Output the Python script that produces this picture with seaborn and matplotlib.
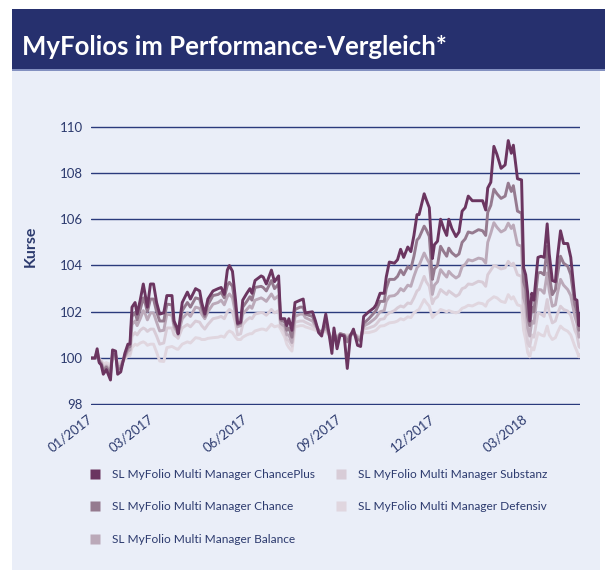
import matplotlib
matplotlib.use("Agg")
import matplotlib.pyplot as plt
import seaborn as sns
import pandas as pd
from matplotlib.patches import Rectangle
from matplotlib.lines import Line2D

# ---------------- data ----------------
start_date = "2017-01-01"
days = [0, 4, 6, 8, 10, 12, 15, 19, 21, 24,
        26, 29, 33, 36, 38, 40, 43, 45, 48, 51,
        53, 55, 58, 61, 64, 67, 71, 74, 79, 81,
        84, 85, 89, 94, 97, 102, 106, 108, 111, 114,
        119, 124, 127, 130, 133, 135, 138, 141, 143, 146,
        148, 152, 155, 157, 160, 166, 168, 171, 176, 179,
        183, 185, 189, 191, 193, 196, 199, 204, 207, 209,
        216, 219, 222, 225, 229, 232, 235, 237, 240, 243,
        247, 250, 253, 256, 260, 263, 266, 271, 276, 278,
        282, 286, 288, 291, 296, 299, 302, 305, 309, 312,
        315, 318, 320, 325, 327, 330, 333, 335, 338, 341,
        344, 347, 349, 352, 356, 359, 362, 365, 368, 372,
        378, 382, 385, 387, 390, 393, 396, 400, 404, 407,
        410, 412, 416, 420, 422, 424, 426, 428, 430, 432,
        436, 439, 442, 445, 447, 450, 453, 455, 458, 461,
        465, 468, 472, 474, 476, 477]

chanceplus = [100.0, 100.0, 100.4, 99.8, 99.7, 99.3, 99.5, 99.05, 100.35, 100.3,
              99.3, 99.4, 100.2, 100.6, 100.6, 102.2, 102.4, 101.9, 102.5, 103.2,
              102.7, 102.2, 103.2, 103.2, 102.4, 101.9, 101.95, 102.7, 102.7, 101.6,
              101.3, 101.05, 102.4, 102.85, 102.55, 103.0, 102.9, 102.4, 101.9, 102.55,
              102.9, 103.0, 103.05, 102.75, 103.8, 104.0, 103.75, 102.5, 101.5, 101.55,
              102.5, 102.8, 103.0, 102.8, 103.35, 103.55, 103.5, 103.2, 103.8, 103.3,
              103.55, 101.7, 101.7, 101.4, 101.7, 101.2, 102.4, 102.5, 102.55, 101.95,
              102.0, 101.6, 101.1, 100.95, 101.9, 101.1, 100.2, 101.3, 100.4, 101.0,
              100.95, 99.55, 100.95, 101.25, 100.55, 100.5, 101.8, 102.0, 102.17, 102.3,
              102.8, 102.8, 103.5, 104.15, 104.1, 104.25, 104.7, 104.35, 104.8, 104.6,
              105.3, 106.2, 106.2, 107.1, 106.85, 106.5, 104.3, 104.9, 105.05, 106.0,
              105.6, 105.3, 106.0, 105.6, 105.25, 105.45, 106.35, 106.5, 107.0, 106.8,
              106.8, 106.8, 106.4, 107.35, 107.6, 109.15, 108.8, 108.2, 108.35, 109.4,
              108.85, 109.2, 107.75, 107.7, 103.9, 103.6, 102.8, 101.6, 102.8, 102.5,
              104.35, 104.4, 104.35, 105.8, 104.5, 103.35, 103.3, 104.35, 105.5, 104.95,
              104.95, 104.35, 102.55, 102.5, 101.4, 101.9]

chance = [100.0, 100.0, 100.3, 99.85, 99.75, 99.45, 99.6, 99.3, 100.2, 100.15,
          99.5, 99.55, 100.1, 100.45, 100.5, 101.8, 101.97, 101.65, 102.1, 102.6,
          102.35, 102.0, 102.55, 102.55, 102.0, 101.6, 101.6, 102.33, 102.3, 101.5,
          101.2, 101.1, 102.05, 102.4, 102.2, 102.6, 102.55, 102.2, 101.8, 102.3,
          102.7, 102.75, 102.84, 102.6, 103.15, 103.27, 103.1, 102.2, 101.45, 101.5,
          102.2, 102.45, 102.65, 102.5, 103.05, 103.1, 103.05, 102.9, 103.35, 103.0,
          103.2, 101.65, 101.55, 101.2, 101.3, 100.9, 102.1, 102.2, 102.2, 101.9,
          101.8, 101.5, 101.2, 101.1, 101.5, 101.1, 100.6, 101.1, 100.7, 101.05,
          101.0, 100.7, 101.0, 101.15, 100.8, 100.75, 101.5, 101.7, 101.95, 102.05,
          102.45, 102.45, 103.0, 103.4, 103.4, 103.53, 103.8, 103.6, 103.95, 103.85,
          104.4, 105.1, 105.2, 105.7, 105.55, 105.26, 103.4, 103.85, 104.0, 104.83,
          104.6, 104.4, 104.75, 104.55, 104.4, 104.5, 105.0, 105.15, 105.45, 105.4,
          105.55, 105.5, 105.3, 106.3, 106.6, 107.3, 107.1, 106.9, 107.0, 107.56,
          107.2, 107.45, 106.35, 106.26, 103.3, 103.0, 101.8, 101.4, 102.2, 102.0,
          103.68, 103.7, 103.6, 104.83, 103.6, 102.74, 102.96, 103.6, 104.4, 104.1,
          103.97, 103.6, 102.3, 102.0, 101.2, 101.3]

balance = [100.0, 100.0, 100.2, 99.9, 99.8, 99.55, 99.65, 99.45, 100.1, 100.1,
           99.6, 99.65, 100.05, 100.3, 100.35, 101.45, 101.6, 101.4, 101.7, 102.05,
           101.9, 101.65, 101.95, 101.95, 101.55, 101.17, 101.2, 101.9, 101.85, 101.35,
           101.1, 101.0, 101.7, 101.95, 101.8, 102.2, 102.15, 101.9, 101.7, 102.0,
           102.33, 102.4, 102.5, 102.3, 102.65, 102.77, 102.6, 101.9, 101.35, 101.4,
           101.9, 102.1, 102.25, 102.15, 102.5, 102.6, 102.55, 102.45, 102.77, 102.55,
           102.7, 101.5, 101.35, 101.0, 101.0, 100.67, 101.8, 101.9, 101.9, 101.75,
           101.6, 101.4, 101.2, 101.1, 101.3, 101.05, 100.8, 101.0, 100.85, 101.05,
           101.0, 100.85, 101.0, 101.1, 100.9, 100.85, 101.38, 101.5, 101.67, 101.75,
           102.0, 102.05, 102.45, 102.67, 102.7, 102.8, 103.0, 102.9, 103.15, 103.1,
           103.53, 103.9, 104.0, 104.54, 104.35, 104.1, 102.75, 103.15, 103.3, 103.82,
           103.65, 103.5, 103.75, 103.6, 103.46, 103.55, 103.95, 104.05, 104.25, 104.2,
           104.32, 104.28, 104.1, 105.0, 105.4, 105.85, 105.65, 105.45, 105.55, 105.83,
           105.6, 105.75, 104.9, 104.83, 102.6, 102.3, 101.3, 100.95, 101.6, 101.5,
           102.96, 102.95, 102.8, 103.68, 102.9, 102.24, 102.3, 102.8, 103.4, 103.15,
           102.96, 102.7, 101.8, 101.5, 100.9, 100.95]

substanz = [100.0, 100.0, 100.15, 99.9, 99.85, 99.65, 99.7, 99.6, 100.05, 100.05,
            99.7, 99.75, 100.0, 100.15, 100.2, 100.95, 101.1, 101.0, 101.2, 101.3,
            101.25, 101.15, 101.25, 101.25, 100.95, 100.6, 100.65, 101.3, 101.3, 101.0,
            100.9, 100.85, 101.3, 101.45, 101.35, 101.6, 101.55, 101.4, 101.25, 101.45,
            101.7, 101.75, 101.8, 101.7, 102.0, 102.1, 102.0, 101.5, 101.0, 101.05,
            101.45, 101.65, 101.75, 101.7, 101.9, 101.97, 101.95, 101.85, 102.1, 101.95,
            102.05, 101.35, 101.15, 100.8, 100.75, 100.52, 101.55, 101.6, 101.6, 101.55,
            101.4, 101.3, 101.2, 101.1, 101.2, 101.0, 100.9, 101.0, 100.9, 101.05,
            101.0, 100.95, 101.0, 101.05, 100.95, 100.9, 101.25, 101.3, 101.38, 101.45,
            101.67, 101.7, 101.85, 101.95, 102.05, 102.17, 102.25, 102.2, 102.38, 102.35,
            102.6, 102.9, 102.97, 103.53, 103.3, 103.1, 102.35, 102.55, 102.65, 102.96,
            102.85, 102.75, 102.9, 102.8, 102.67, 102.75, 103.0, 103.05, 103.2, 103.18,
            103.32, 103.28, 103.1, 103.6, 103.8, 104.0, 103.95, 103.85, 103.9, 104.18,
            104.0, 104.1, 103.6, 103.53, 101.9, 101.5, 100.66, 100.5, 101.0, 100.9,
            101.95, 101.9, 101.8, 102.53, 101.95, 101.52, 101.6, 101.9, 102.24, 102.1,
            102.03, 101.85, 101.2, 101.0, 100.5, 100.45]

defensiv = [100.0, 100.0, 100.1, 99.95, 99.9, 99.75, 99.8, 99.7, 100.0, 100.0,
            99.8, 99.85, 99.95, 100.1, 100.1, 100.45, 100.6, 100.55, 100.65, 100.7,
            100.65, 100.55, 100.6, 100.6, 100.25, 99.87, 99.85, 100.45, 100.5, 100.45,
            100.38, 100.38, 100.6, 100.7, 100.65, 100.88, 100.85, 100.8, 100.8, 100.85,
            100.88, 100.9, 100.95, 100.9, 101.1, 101.17, 101.1, 100.9, 100.8, 100.8,
            100.9, 101.0, 101.05, 101.05, 101.17, 101.25, 101.25, 101.2, 101.46, 101.35,
            101.4, 101.25, 100.9, 100.6, 100.45, 100.3, 101.35, 101.4, 101.4, 101.35,
            101.25, 101.2, 101.15, 101.1, 101.15, 101.0, 100.95, 101.0, 100.95, 101.05,
            101.0, 101.0, 101.0, 101.0, 100.95, 100.95, 101.1, 101.1, 101.16, 101.2,
            101.38, 101.4, 101.45, 101.52, 101.55, 101.6, 101.7, 101.65, 101.78, 101.75,
            101.95, 102.05, 102.1, 102.53, 102.4, 102.24, 101.75, 101.85, 101.95, 102.1,
            102.05, 102.0, 102.05, 102.0, 101.95, 102.0, 102.15, 102.2, 102.28, 102.25,
            102.38, 102.35, 102.24, 102.45, 102.55, 102.65, 102.6, 102.45, 102.4, 102.74,
            102.55, 102.65, 102.3, 102.24, 101.2, 100.8, 100.23, 100.05, 100.45, 100.35,
            101.09, 101.0, 100.95, 101.38, 101.0, 100.8, 100.88, 101.1, 101.38, 101.25,
            101.16, 101.0, 100.5, 100.3, 100.05, 100.15]

series_names = ["SL MyFolio Multi Manager ChancePlus",
                "SL MyFolio Multi Manager Chance",
                "SL MyFolio Multi Manager Balance",
                "SL MyFolio Multi Manager Substanz",
                "SL MyFolio Multi Manager Defensiv"]
series_colors = ["#6b3560", "#957a8f", "#bba9b9", "#d8ccd7", "#e0d6df"]

tick_dates = ["2017-01-01", "2017-03-01", "2017-06-01", "2017-09-01", "2017-12-01", "2018-03-01"]
tick_labels = ["01/2017", "03/2017", "06/2017", "09/2017", "12/2017", "03/2018"]
y_ticks = [98, 100, 102, 104, 106, 108, 110]

title_text = "MyFolios im Performance-Vergleich*"
y_label = "Kurse"

# ---------------- build frame ----------------
dates = pd.Timestamp(start_date) + pd.to_timedelta(days, unit="D")
frames = []
for name, vals in zip(series_names, [chanceplus, chance, balance, substanz, defensiv]):
    frames.append(pd.DataFrame({"Datum": dates, "Kurs": vals, "Fonds": name}))
df = pd.concat(frames, ignore_index=True)

# ---------------- style ----------------
sns.set_style("white")
plt.rcParams["font.family"] = ["Lato", "DejaVu Sans"]

NAVY = "#26306e"
TEXT = "#2c3a6e"
PANEL = "#eaeef8"

fig = plt.figure(figsize=(6.05, 5.70), dpi=100)
fig.patch.set_facecolor("white")

# panel + header
fig.add_artist(Rectangle((12 / 605, 0), (600 - 12) / 605, (570 - 70) / 570,
                         transform=fig.transFigure, facecolor=PANEL, edgecolor="none", zorder=0))
fig.add_artist(Rectangle((12 / 605, 1 - 69 / 570), (605 - 12) / 605, 60 / 570,
                         transform=fig.transFigure, facecolor=NAVY, edgecolor="none", zorder=0))
fig.add_artist(Rectangle((12 / 605, 1 - 71 / 570), (605 - 12) / 605, 2 / 570,
                         transform=fig.transFigure, facecolor="#8390c0", edgecolor="none", zorder=0))
fig.text(22 / 605, 1 - 55 / 570, title_text, color="white", fontsize=18.5,
         fontweight="bold", va="baseline", ha="left")

ax = fig.add_axes([91 / 605, 1 - 405 / 570, (580 - 91) / 605, (405 - 126) / 570])
ax.set_facecolor("none")

palette = dict(zip(series_names, series_colors))
sns.lineplot(data=df, x="Datum", y="Kurs", hue="Fonds",
             hue_order=series_names[::-1], palette=palette,
             linewidth=2.1, ax=ax, legend=False, zorder=3)

ax.set_ylim(97.97, 110.03)
ax.set_xlim(dates[0], dates[-1])
ax.set_yticks(y_ticks)
ax.set_yticklabels([str(t) for t in y_ticks])
ax.set_xticks(pd.to_datetime(tick_dates))
ax.set_xticklabels(tick_labels)
ax.grid(axis="y", color="#2a3a7c", linewidth=1.0)
ax.grid(axis="x", visible=False)
for s in ax.spines.values():
    s.set_visible(False)
ax.tick_params(axis="y", length=0, pad=6, labelsize=9.5, labelcolor=TEXT)
ax.tick_params(axis="x", length=0, pad=9, labelsize=9.5, labelcolor=TEXT)
for lab in ax.get_xticklabels():
    lab.set_rotation(38)
    lab.set_ha("right")
    lab.set_va("center")
    lab.set_rotation_mode("anchor")
ax.set_xlabel("")
ax.set_ylabel(y_label, fontsize=11.5, fontweight="bold", color=TEXT)
ax.yaxis.set_label_coords(-0.108, 0.57)

handles = [Line2D([], [], linestyle="none", marker="s", markersize=7.5,
                  markerfacecolor=c, markeredgecolor="none") for c in series_colors]
leg = fig.legend(handles, series_names, loc="upper left", ncol=2,
                 bbox_to_anchor=(89 / 605, 1 - 469 / 570), frameon=False,
                 fontsize=8.6, handlelength=1.0, handletextpad=0.9,
                 labelspacing=1.8, columnspacing=1.7, borderpad=0, borderaxespad=0)
for t in leg.get_texts():
    t.set_color(TEXT)

fig.savefig("out.png", dpi=100, facecolor="white")
